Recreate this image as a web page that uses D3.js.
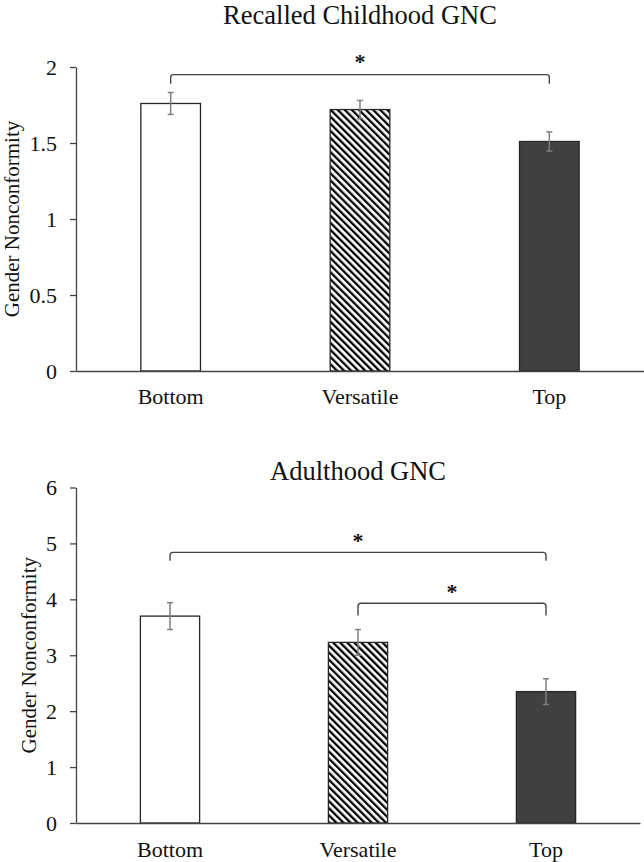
<!DOCTYPE html>
<html>
<head>
<meta charset="utf-8">
<script src="https://cdn.jsdelivr.net/npm/d3@7"></script>
<style>
  body { margin: 0; background: #fff; }
  svg text { font-family: "Liberation Serif", "Times New Roman", serif; fill: #111; }
</style>
</head>
<body>
<div id="chart"></div>
<script>
// values
const categories = ["Bottom", "Versatile", "Top"];

const childhoodMeans = [1.76, 1.72, 1.51];
const childhoodErrors = [0.072, 0.06, 0.063];
const childhoodTicks = [0, 0.5, 1, 1.5, 2];
const childhoodBrackets = [
  { from: "Bottom", to: "Top", level: 1.95, drop: 0.06, star: 2.06 }
];

const adulthoodMeans = [3.70, 3.23, 2.35];
const adulthoodErrors = [0.24, 0.23, 0.23];
const adulthoodTicks = [0, 1, 2, 3, 4, 5, 6];
const adulthoodBrackets = [
  { from: "Bottom", to: "Top", level: 4.84, drop: 0.15, star: 5.12 },
  { from: "Versatile", to: "Top", level: 3.93, drop: 0.22, star: 4.21 }
];

const fills = ["#ffffff", "url(#hatch)", "#404040"];

const svg = d3
  .select("#chart")
  .append("svg")
  .attr("width", 644)
  .attr("height", 862);

svg.append("rect").attr("width", 644).attr("height", 862).attr("fill", "#fff");

// diagonal hatching for the middle bar
const pattern = svg
  .append("defs")
  .append("pattern")
  .attr("id", "hatch")
  .attr("patternUnits", "userSpaceOnUse")
  .attr("width", 5)
  .attr("height", 5)
  .attr("patternTransform", "rotate(-45)");
pattern.append("rect").attr("width", 5).attr("height", 5).attr("fill", "#fff");
pattern.append("rect").attr("width", 2.3).attr("height", 5).attr("fill", "#000");

function drawPanel(opts) {
  const { title, means, errors, ticks, brackets, top, bottom, right, titleY, labelX, catPad } = opts;
  const left = 76;

  const x = d3.scaleBand().domain(categories).range([left, right]).padding(0);
  const y = d3.scaleLinear().domain([0, d3.max(ticks)]).range([bottom, top]);
  const barW = x.bandwidth() * 0.315;

  const g = svg.append("g");

  g.append("text")
    .attr("x", (left + right) / 2)
    .attr("y", titleY)
    .attr("text-anchor", "middle")
    .style("font-size", "26.5px")
    .text(title);

  // y axis
  g.append("g")
    .attr("transform", `translate(${left},0)`)
    .call(d3.axisLeft(y).tickValues(ticks).tickFormat(d3.format("~g")).tickSize(6).tickSizeOuter(0).tickPadding(13))
    .call((a) => a.selectAll("path, line").attr("stroke", "#444").attr("stroke-width", 1.3))
    .call((a) => a.selectAll("text").style("font-size", "22px").attr("fill", "#111"));

  g.append("text")
    .attr("transform", `translate(${labelX},${(top + bottom) / 2}) rotate(-90)`)
    .attr("text-anchor", "middle")
    .style("font-size", "21px")
    .text("Gender Nonconformity");

  // bars
  g.selectAll(".bar")
    .data(categories)
    .join("rect")
    .attr("class", "bar")
    .attr("x", (d) => x(d) + x.bandwidth() / 2 - barW / 2)
    .attr("width", barW)
    .attr("y", (d, i) => y(means[i]))
    .attr("height", (d, i) => y(0) - y(means[i]))
    .attr("fill", (d, i) => fills[i])
    .attr("stroke", "#262626")
    .attr("stroke-width", 1.3);

  // x axis
  g.append("g")
    .attr("transform", `translate(0,${y(0)})`)
    .call(d3.axisBottom(x).tickSize(0).tickPadding(catPad))
    .call((a) => a.select(".domain").attr("stroke", "#444").attr("stroke-width", 1.3))
    .call((a) => a.selectAll("text").style("font-size", "22px").attr("fill", "#111"));

  // error bars
  const err = g.selectAll(".err").data(categories).join("g").attr("class", "err")
    .attr("stroke", "#7f7f7f").attr("stroke-width", 1.5);
  const cx = (d) => x(d) + x.bandwidth() / 2;
  err.append("line")
    .attr("x1", cx).attr("x2", cx)
    .attr("y1", (d, i) => y(means[i] + errors[i]))
    .attr("y2", (d, i) => y(means[i] - errors[i]));
  err.append("line")
    .attr("x1", (d) => cx(d) - 3).attr("x2", (d) => cx(d) + 3)
    .attr("y1", (d, i) => y(means[i] + errors[i]))
    .attr("y2", (d, i) => y(means[i] + errors[i]));
  err.append("line")
    .attr("x1", (d) => cx(d) - 3).attr("x2", (d) => cx(d) + 3)
    .attr("y1", (d, i) => y(means[i] - errors[i]))
    .attr("y2", (d, i) => y(means[i] - errors[i]));

  // significance brackets
  brackets.forEach((b) => {
    const x1 = cx(b.from);
    const x2 = cx(b.to);
    const r = 3;
    const yl = y(b.level);
    const yd = y(b.level - b.drop);
    g.append("path")
      .attr("d", `M${x1},${yd} V${yl + r} Q${x1},${yl} ${x1 + r},${yl} H${x2 - r} Q${x2},${yl} ${x2},${yl + r} V${yd}`)
      .attr("fill", "none")
      .attr("stroke", "#444")
      .attr("stroke-width", 1.4);
    g.append("text")
      .attr("x", (x1 + x2) / 2)
      .attr("y", y(b.star) + 11)
      .attr("text-anchor", "middle")
      .style("font-size", "22px")
      .style("font-weight", "bold")
      .text("*");
  });
}

drawPanel({
  title: "Recalled Childhood GNC",
  means: childhoodMeans,
  errors: childhoodErrors,
  ticks: childhoodTicks,
  brackets: childhoodBrackets,
  top: 67,
  bottom: 371,
  right: 644,
  titleY: 24,
  labelX: 19,
  catPad: 17
});

drawPanel({
  title: "Adulthood GNC",
  means: adulthoodMeans,
  errors: adulthoodErrors,
  ticks: adulthoodTicks,
  brackets: adulthoodBrackets,
  top: 487.5,
  bottom: 823,
  right: 640,
  titleY: 480,
  labelX: 36,
  catPad: 18
});
</script>
</body>
</html>
